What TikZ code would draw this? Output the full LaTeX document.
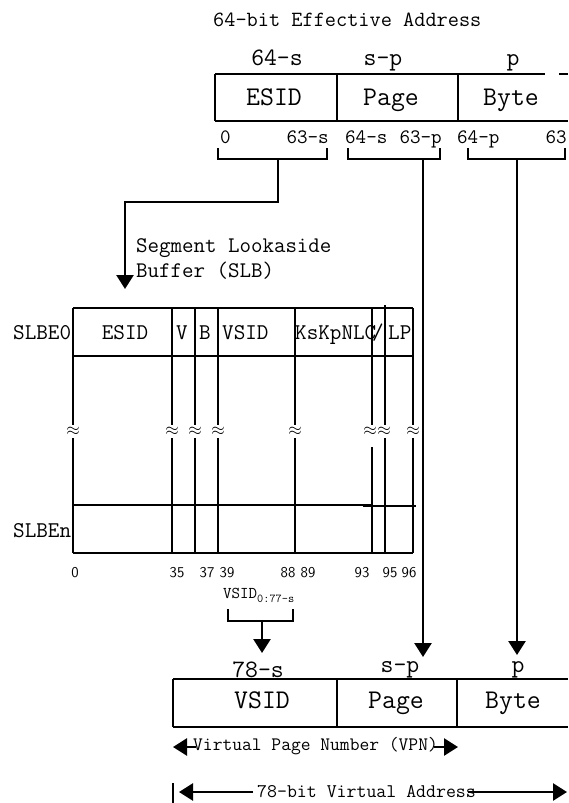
\documentclass[tikz,border=0pt]{standalone}
\usepackage{fontspec}
\usetikzlibrary{arrows.meta}
\begin{document}
\begin{tikzpicture}[x=1pt,y=-1pt,
  tt/.style={font={\fontsize{#1}{#1}\selectfont\ttfamily}, inner sep=0pt},
  sf/.style={font={\fontsize{#1}{#1}\selectfont\sffamily}, inner sep=0pt},
  box/.style={line width=2pt},
  conn/.style={line width=2.6pt},
  tip/.style={-{Triangle[width=17pt,length=14pt]}},
  apx/.style={inner sep=0pt, font={\fontsize{19}{19}\selectfont}}
]
\fill[white] (0,0) rectangle (568,803);
\useasboundingbox (0,0) rectangle (568,803);

% ---------- Effective address ----------
\node[tt=21.7, anchor=base west] (title) at (213,27) {64-bit Effective Address};
\node[tt=25, anchor=base] (w1) at (277,65) {64-s};
\node[tt=25, anchor=base] (w2) at (383,65) {s-p};
\node[tt=25, anchor=base] (w3) at (513,65) {p};

\draw[box] (215,74) -- (545,74);
\draw[box] (559,74) -- (568,74);
\draw[box] (215,121) -- (568,121);
\draw[box] (215,74) -- (215,121);
\draw[box] (337,74) -- (337,121);
\draw[box] (458,74) -- (458,121);
\node[tt=27, anchor=base] (eesid) at (274,105) {ESID};
\node[tt=27, anchor=base] (epage) at (391,105) {Page};
\node[tt=27, anchor=base] (ebyte) at (511,105) {Byte};

\node[tt=20.5, anchor=base west] (n0)   at (220,143) {0};
\node[tt=20.5, anchor=base east] (n63s) at (329,143) {63-s};
\node[tt=20.5, anchor=base west] (n64s) at (345,143) {64-s};
\node[tt=20.5, anchor=base east] (n63p) at (442,143) {63-p};
\node[tt=20.5, anchor=base west] (n64p) at (457,143) {64-p};
\node[tt=20.5, anchor=base east] (n63)  at (567,143) {63};

% brackets
\draw[conn] (218,148) -- (218,159) -- (327,159) -- (327,148);
\draw[conn] (348,148) -- (348,159) -- (440,159) -- (440,148);
\draw[conn] (468,148) -- (468,159) -- (565,159) -- (565,148);
\coordinate (b1) at (278,159);
\coordinate (b2) at (423,159);
\coordinate (b3) at (517,159);
\coordinate (slbin) at (125,289);
\coordinate (pagein) at (423,657);
\coordinate (bytein) at (517,655);
\draw[conn,tip] (b1) -- (278,202) -| (slbin);
\draw[conn,tip] (b2) -- (pagein);
\draw[conn,tip] (b3) -- (bytein);

% ---------- SLB ----------
\node[tt=22.3, anchor=base west] (slb1) at (136,252) {Segment Lookaside};
\node[tt=22.3, anchor=base west] (slb2) at (136,277) {Buffer (SLB)};

\draw[box] (73,308) -- (413,308);
\draw[box] (73,356) -- (413,356);
\draw[box] (73,505) -- (372,505);
\draw[box] (363,506) -- (416,506);
\draw[box] (73,553) -- (413,553);
\foreach \x in {73,172,195,218,295,413}{
  \draw[box] (\x,308) -- (\x,425);
  \draw[box] (\x,438) -- (\x,553);
  \node[apx] at (\x,431) {$\approx$};
}
\draw[box] (385,305) -- (385,425);
\draw[box] (385,438) -- (385,553);
\node[apx] at (384,431) {$\approx$};
\draw[box] (372,308) -- (372,425);
\draw[box] (372,447) -- (372,553);
\node[apx] at (370,431) {$\approx$};

\node[tt=22.5, anchor=base west] (e0)   at (13,339) {SLBE0};
\node[tt=22.5, anchor=base]      (sesid) at (125,339) {ESID};
\node[tt=22.5, anchor=base]      (sv)   at (182,339) {V};
\node[tt=22.5, anchor=base]      (sb)   at (205,339) {B};
\node[tt=22.5, anchor=base west] (svsid) at (222,339) {VSID};
\node[tt=22.5, anchor=base west] (sks)  at (295,339) {KsKpNLC};
\node[tt=22.5, anchor=base]      (ssl)  at (378,339) {/};
\node[tt=22.5, anchor=base west] (slp)  at (388,339) {LP};
\node[tt=22.5, anchor=base west] (en)   at (13,537) {SLBEn};

\foreach \v/\x in {0/75,35/177,37/207,39/227,88/288,89/308,93/362,95/390,96/409}{
  \node[sf=15, anchor=base] at (\x,577) {\v};
}

% VSID selection
\node[tt=16.5, anchor=base west] (vsel) at (223,598) {VSID\raisebox{-4pt}{\fontsize{12}{12}\selectfont\ttfamily 0:77-s}};
\draw[conn] (228,609) -- (228,621) -- (293,621) -- (293,609);
\coordinate (b4) at (262,621);
\coordinate (vsidin) at (262,653);
\draw[conn,tip] (b4) -- (vsidin);

% ---------- Virtual address ----------
\node[tt=25, anchor=base] (v1) at (258,677) {78-s};
\node[tt=25, anchor=base] (v2) at (400,672) {s-p};
\node[tt=25, anchor=base] (v3) at (518,672) {p};
\draw[box] (173,679) -- (568,679);
\draw[box] (173,727) -- (568,727);
\draw[box] (173,679) -- (173,727);
\draw[box] (337,679) -- (337,727);
\draw[box] (457,679) -- (457,727);
\node[tt=27, anchor=base] (vvsid) at (262,708) {VSID};
\node[tt=27, anchor=base] (vpage) at (396,708) {Page};
\node[tt=27, anchor=base] (vbyte) at (513,708) {Byte};

\node[tt=19, anchor=base west] (vpn) at (193,750) {Virtual Page Number (VPN)};
\coordinate (vpnL) at (173,747);
\coordinate (vpnR) at (458,747);
\draw[conn,tip] ([xshift=3pt]vpn.west |- vpnL) -- (vpnL);
\draw[conn,tip] ([xshift=-4pt]vpn.east |- vpnR) -- (vpnR);

\node[tt=19.3, anchor=base west] (va) at (257,797) {78-bit Virtual Address};
\coordinate (vaL) at (179,792);
\coordinate (vaR) at (567,792);
\coordinate (barT) at (173,783);
\coordinate (barB) at (173,803);
\draw[conn] (barT) -- (barB);
\draw[conn,tip] ([xshift=-4pt]va.west |- vaL) -- (vaL);
\draw[conn,tip] ([xshift=-8pt]va.east |- vaR) -- (vaR);
\end{tikzpicture}
\end{document}
